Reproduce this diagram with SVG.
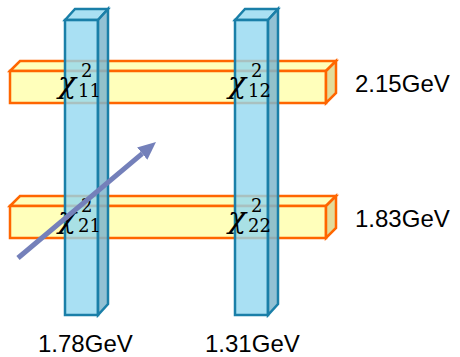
<svg xmlns="http://www.w3.org/2000/svg" width="460" height="357" viewBox="0 0 460 357">
<style>
.bar{fill:#FFFFBB;stroke:#FF6600;stroke-width:2.5;stroke-linejoin:miter}
.barside{fill:#E2DC9C;stroke:#FF6600;stroke-width:2.5}
.col{fill:#93D8F0;fill-opacity:0.8;stroke:#1A7FA8;stroke-width:2.5}
.colside{fill:#7FB6CC;fill-opacity:0.85;stroke:#1A7FA8;stroke-width:2.5}
.chi{font-family:"DejaVu Serif",serif;font-style:italic;font-size:30px;fill:#000}
.idx{font-family:"DejaVu Serif",serif;font-size:18px;fill:#000}
.lbl{font-family:"Liberation Sans",Arial,sans-serif;font-size:24px;fill:#000}
</style>
<defs>
<marker id="ah" markerUnits="userSpaceOnUse" markerWidth="18" markerHeight="16" viewBox="0 0 18 16" refX="0" refY="8" orient="auto">
<path d="M0,0 L18,8 L0,16 z" fill="#7480BA"/>
</marker>
</defs>
<g id="bar1">
<polygon class="bar" points="10,71 20,61 336,61 326,71"/>
<rect class="bar" x="10" y="71" width="316" height="32"/>
<polygon class="barside" points="326,71 336,61 336,93 326,103"/>
</g>
<g id="bar2">
<polygon class="bar" points="10,206 20,196 336,196 326,206"/>
<rect class="bar" x="10" y="206" width="316" height="32"/>
<polygon class="barside" points="326,206 336,196 336,228 326,238"/>
</g>
<g id="col1">
<polygon class="col" points="65,20 75,9 108,9 98,20"/>
<rect class="col" x="65" y="20" width="33" height="295"/>
<polygon class="colside" points="98,20 108,9 108,304 98,315"/>
</g>
<g id="col2">
<polygon class="col" points="235,20 245,9 278,9 268,20"/>
<rect class="col" x="235" y="20" width="33" height="295"/>
<polygon class="colside" points="268,20 278,9 278,304 268,315"/>
</g>
<g id="chi11"><text class="chi" x="58" y="93">χ</text><text class="idx" x="81" y="77">2</text><text class="idx" x="78" y="97">11</text></g>
<g id="chi12"><text class="chi" x="228" y="93">χ</text><text class="idx" x="251" y="77">2</text><text class="idx" x="248" y="97">12</text></g>
<g id="chi21"><text class="chi" x="58" y="228">χ</text><text class="idx" x="81" y="212">2</text><text class="idx" x="78" y="232">21</text></g>
<g id="chi22"><text class="chi" x="228" y="228">χ</text><text class="idx" x="251" y="212">2</text><text class="idx" x="248" y="232">22</text></g>
<g id="labels">
<text class="lbl" x="355" y="92">2.15GeV</text>
<text class="lbl" x="355" y="227">1.83GeV</text>
<text class="lbl" x="38" y="352">1.78GeV</text>
<text class="lbl" x="205" y="352">1.31GeV</text>
</g>
<g id="connectors">
<line x1="18" y1="258" x2="142.2" y2="153.6" stroke="#7480BA" stroke-width="5" marker-end="url(#ah)"/>
</g>
</svg>
